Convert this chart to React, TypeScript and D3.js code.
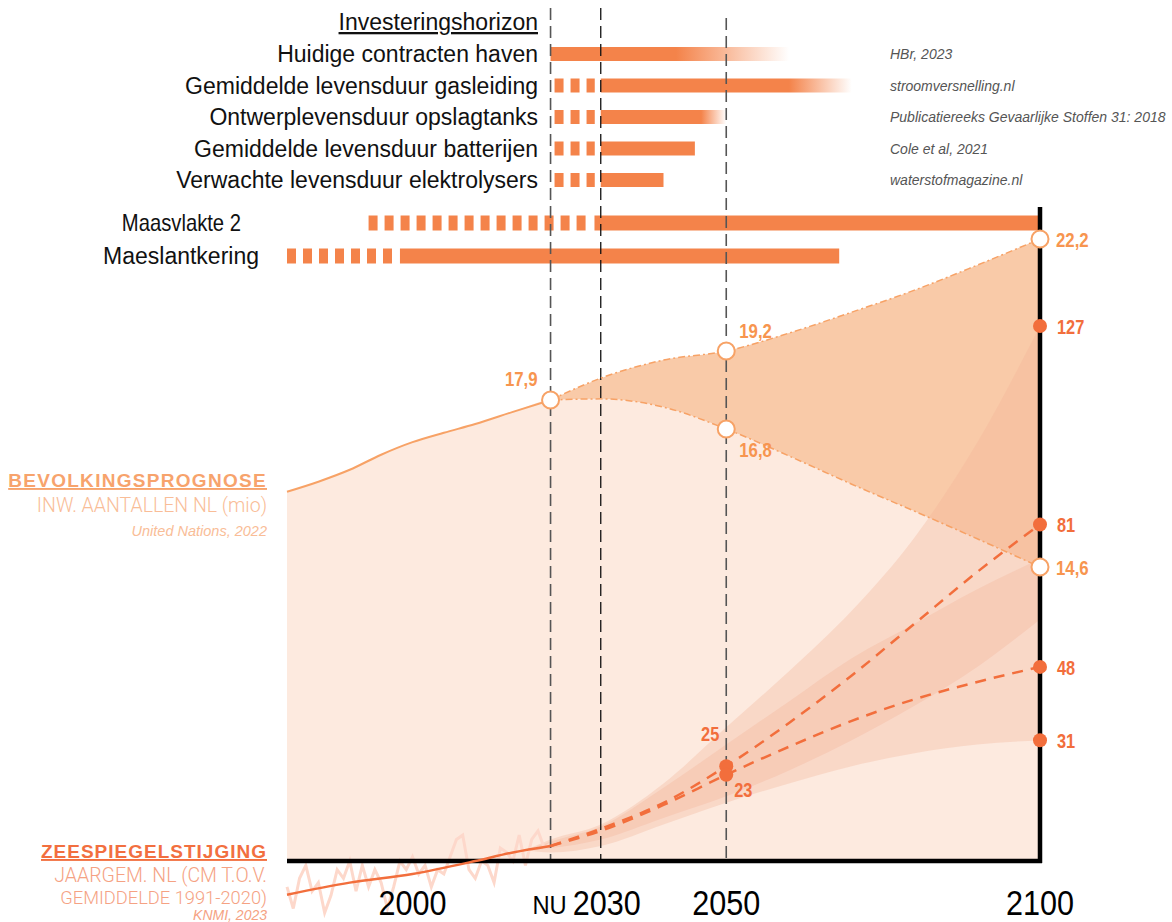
import * as d3 from "d3";

// --- investeringshorizon (top bars) ---
const horizonLabels = [
  "Huidige contracten haven",
  "Gemiddelde levensduur gasleiding",
  "Ontwerplevensduur opslagtanks",
  "Gemiddelde levensduur batterijen",
  "Verwachte levensduur elektrolysers",
];
const horizonSources = [
  "HBr, 2023",
  "stroomversnelling.nl",
  "Publicatiereeks Gevaarlijke Stoffen 31: 2018",
  "Cole et al, 2021",
  "waterstofmagazine.nl",
];
const horizonDashFrom = [null, 2022, 2022, 2022, 2022];
const horizonStart = [2022, 2030, 2030, 2030, 2030];
const horizonSolidEnd = [2042, 2060, 2046, 2045, 2040];
const horizonFadeEnd = [2060, 2070, 2050, 2045, 2040];

const infraLabels = ["Maasvlakte 2", "Maeslantkering"];
const infraDashFrom = [1993, 1980];
const infraStart = [2029, 1998];
const infraEnd = [2100, 2068];

// --- x axis ---
const guideYears = [2022, 2030, 2050];
const tickYears = [2000, 2030, 2050, 2100];

// --- bevolking (mio) ---
const popHistYears = [1980, 1985, 1990, 1995, 2000, 2005, 2010, 2016, 2022];
const popHist = [15.8, 15.96, 16.15, 16.39, 16.59, 16.74, 16.99, 17.45, 17.9];
const projYears = [2022, 2030, 2040, 2050, 2060, 2070, 2080, 2090, 2100];
const popHigh = [17.9, 18.48, 18.96, 19.2, 19.68, 20.24, 20.83, 21.5, 22.2];
const popLow = [17.9, 17.93, 17.63, 16.8, 16.37, 15.92, 15.49, 15.05, 14.6];
const popMarkYears = [2022, 2050, 2050, 2100, 2100];
const popMarks = [17.9, 19.2, 16.8, 22.2, 14.6];

// --- zeespiegel (cm t.o.v. 1991-2020) ---
const seaAnnualYears = d3.range(1980, 2023);
const seaAnnual = [
  -3, -8, -1, 2, -4, -2, -9, -5, 1, -1, 3, -4, 2, -3, 1, -2, -8, -3, 3, 1, 4,
  0, 2, -3, 1, 0, 4, 8, 9, 1, -1, 3, 2, -2, 6, 5, 3, 9, 2, 8, 10, 6, 7,
];
const seaTrendYears = [1980, 1990, 2000, 2010, 2016, 2022];
const seaTrend = [-4.8, -2, 0, 3, 5, 6.5];
const bandYears = [2018, 2022, 2030, 2040, 2050, 2060, 2070, 2080, 2090, 2100];
const highUpper = [5.5, 8, 11.5, 21, 34, 47, 61, 78, 100, 127];
const highLower = [5.5, 6, 8, 13, 18, 24, 31, 39, 48, 59];
const lowUpper = [5.5, 7.5, 11, 20, 30, 40, 50, 58, 66, 73];
const lowLower = [5.5, 5, 6.5, 11.5, 16.5, 21, 25, 28, 30, 31];
const seaHighMedian = [6.5, 10.5, 16.5, 25, 35, 46, 58, 70, 81];
const seaLowMedian = [6.5, 10, 16, 23, 29.5, 35.5, 40.5, 44.5, 48];
const seaMarkYears = [2050, 2050, 2100, 2100, 2100, 2100];
const seaMarks = [25, 23, 127, 81, 48, 31];

const BAR = "#f4834a";
const POP = "#f7a266";
const SEA = "#f26e3c";
const FONT = "'Liberation Sans', Arial, sans-serif";

const fmt = (v: number) => (Number.isInteger(v) ? String(v) : v.toFixed(1).replace(".", ","));

export default function App() {
  const W = 1172;
  const H = 922;
  const bottom = 861;
  const x = d3.scaleLinear().domain([1980, 2100]).range([287, 1040]);
  // the population axis in the original is drawn by hand, so it is piecewise
  const yPop = d3
    .scaleLinear()
    .domain([14.6, 16.8, 17.9, 19.2, 22.2])
    .range([567, 429, 400, 351, 239]);
  const ySea = d3.scaleLinear().domain([0, 127]).range([874, 326]);
  const rowY = d3.scalePoint<string>().domain(horizonLabels).range([54, 180]);
  const infraY = d3.scalePoint<string>().domain(infraLabels).range([223, 256]);

  const line = d3
    .line<[number, number]>()
    .x((d) => x(d[0]))
    .curve(d3.curveMonotoneX);

  const popLine = line.y((d) => yPop(d[1]));
  const histPts: [number, number][] = popHistYears.map((yr, i) => [yr, popHist[i]]);
  const highPts: [number, number][] = projYears.map((yr, i) => [yr, popHigh[i]]);
  const lowPts: [number, number][] = projYears.map((yr, i) => [yr, popLow[i]]);
  const histPath = popLine(histPts) as string;
  const highPath = popLine(highPts) as string;
  const lowPath = popLine(lowPts) as string;

  const paleArea = d3
    .area<[number, number]>()
    .x((d) => x(d[0]))
    .y0(bottom)
    .y1((d) => yPop(d[1]))
    .curve(d3.curveMonotoneX)([...histPts, ...lowPts.slice(1)]) as string;

  const bandArea = d3
    .area<number>()
    .x((yr) => x(yr))
    .curve(d3.curveMonotoneX);
  const popBand = bandArea
    .y0((_, i) => yPop(popLow[i]))
    .y1((_, i) => yPop(popHigh[i]))(projYears) as string;
  const highBand = bandArea
    .y0((_, i) => ySea(highLower[i]))
    .y1((_, i) => ySea(highUpper[i]))(bandYears) as string;
  const lowBand = bandArea
    .y0((_, i) => ySea(lowLower[i]))
    .y1((_, i) => ySea(lowUpper[i]))(bandYears) as string;

  const seaLine = d3
    .line<[number, number]>()
    .x((d) => x(d[0]))
    .y((d) => ySea(d[1]));
  const annualPath = seaLine(seaAnnualYears.map((yr, i) => [yr, seaAnnual[i]])) as string;
  const trendPath = seaLine.curve(d3.curveMonotoneX)(
    seaTrendYears.map((yr, i) => [yr, seaTrend[i]])
  ) as string;
  const highMedPath = seaLine(projYears.map((yr, i) => [yr, seaHighMedian[i]])) as string;
  const lowMedPath = seaLine(projYears.map((yr, i) => [yr, seaLowMedian[i]])) as string;

  const condensed = (
    tx: number,
    ty: number,
    s: number,
    props: Record<string, unknown>,
    txt: string,
    key?: string
  ) => (
    <text key={key} transform={`translate(${tx},${ty}) scale(${s},1)`} {...props}>
      {txt}
    </text>
  );

  // label placement around markers
  const popLabelPos = (i: number) => {
    const cx = x(popMarkYears[i]);
    const cy = yPop(popMarks[i]);
    if (popMarkYears[i] === 2100) return { tx: cx + 16, ty: cy + 8, anchor: "start" };
    if (popMarkYears[i] === 2022) return { tx: cx - 13, ty: cy - 14, anchor: "end" };
    if (popMarks[i] > 18) return { tx: cx + 13, ty: cy - 13, anchor: "start" };
    return { tx: cx + 13, ty: cy + 28, anchor: "start" };
  };
  const seaLabelPos = (i: number) => {
    const cx = x(seaMarkYears[i]);
    const cy = ySea(seaMarks[i]);
    if (seaMarkYears[i] === 2100) return { tx: cx + 17, ty: cy + 8, anchor: "start" };
    if (i === 0) return { tx: cx - 7, ty: cy - 25, anchor: "end" };
    return { tx: cx + 8, ty: cy + 22, anchor: "start" };
  };

  return (
    <svg
      width={W}
      height={H}
      style={{ position: "absolute", left: 0, top: 0, background: "#fff" }}
      fontFamily={FONT}
    >
      <defs>
        {horizonLabels.map((_, i) => (
          <linearGradient
            key={i}
            id={`fade-${i}`}
            gradientUnits="userSpaceOnUse"
            x1={x(horizonSolidEnd[i])}
            x2={x(horizonFadeEnd[i])}
            y1={0}
            y2={0}
          >
            <stop offset="0" stopColor={BAR} stopOpacity={1} />
            <stop offset="1" stopColor={BAR} stopOpacity={horizonFadeEnd[i] === horizonSolidEnd[i] ? 1 : 0} />
          </linearGradient>
        ))}
      </defs>

      {/* population areas */}
      <path d={paleArea} fill="#fdeadf" />
      <path d={popBand} fill="#f9caa8" />

      {/* sea level scenario bands */}
      <path d={highBand} fill="#f4b499" fillOpacity={0.33} />
      <path d={lowBand} fill="#f4b499" fillOpacity={0.33} />

      {/* yearly sea level */}
      <path d={annualPath} fill="none" stroke="#fdd8cb" strokeWidth={3} strokeLinejoin="miter" />

      {/* investment horizon bars */}
      {horizonLabels.map((lab, i) => {
        const cy = rowY(lab) as number;
        const h = 14;
        const df = horizonDashFrom[i];
        return (
          <g key={lab}>
            {df !== null && (
              <line
                x1={x(df) + 4}
                x2={x(horizonStart[i]) - 6}
                y1={cy}
                y2={cy}
                stroke={BAR}
                strokeWidth={h}
                strokeDasharray="9 7"
              />
            )}
            <rect
              x={x(horizonStart[i])}
              y={cy - h / 2}
              width={x(horizonFadeEnd[i]) - x(horizonStart[i])}
              height={h}
              fill={`url(#fade-${i})`}
            />
          </g>
        );
      })}
      {infraLabels.map((lab, i) => {
        const cy = infraY(lab) as number;
        const h = 15;
        return (
          <g key={lab}>
            <line
              x1={x(infraDashFrom[i])}
              x2={x(infraStart[i]) - 7}
              y1={cy}
              y2={cy}
              stroke={BAR}
              strokeWidth={h}
              strokeDasharray="9 7"
            />
            <rect
              x={x(infraStart[i])}
              y={cy - h / 2}
              width={x(infraEnd[i]) - x(infraStart[i])}
              height={h}
              fill={BAR}
            />
          </g>
        );
      })}

      {/* vertical guides */}
      {guideYears.map((yr) => (
        <line
          key={yr}
          x1={x(yr)}
          x2={x(yr)}
          y1={yr === 2050 ? 18 : 8}
          y2={bottom}
          stroke={yr === 2030 ? "#111" : "#555"}
          strokeWidth={yr === 2030 ? 1.3 : 1.6}
          strokeDasharray="12 6"
        />
      ))}

      {/* axes */}
      <line x1={287} x2={x(2100) + 2} y1={bottom} y2={bottom} stroke="#000" strokeWidth={4.5} />
      <line x1={x(2100)} x2={x(2100)} y1={207} y2={bottom + 2} stroke="#000" strokeWidth={4.5} />

      {/* population lines */}
      <path d={histPath} fill="none" stroke={POP} strokeWidth={2} />
      <path d={highPath} fill="none" stroke={POP} strokeWidth={1.5} strokeDasharray="7 3 2 3" />
      <path d={lowPath} fill="none" stroke={POP} strokeWidth={1.5} strokeDasharray="7 3 2 3" />

      {/* sea level lines */}
      <path d={trendPath} fill="none" stroke={SEA} strokeWidth={2.5} />
      <path d={highMedPath} fill="none" stroke={SEA} strokeWidth={2.5} strokeDasharray="11 8" />
      <path d={lowMedPath} fill="none" stroke={SEA} strokeWidth={2.5} strokeDasharray="11 8" />

      {/* markers */}
      {popMarks.map((v, i) => (
        <circle key={i} cx={x(popMarkYears[i])} cy={yPop(v)} r={8.5} fill="#fff" stroke={POP} strokeWidth={2} />
      ))}
      {seaMarks.map((v, i) => (
        <circle key={i} cx={x(seaMarkYears[i])} cy={ySea(v)} r={7} fill={SEA} />
      ))}

      {/* marker labels */}
      {popMarks.map((v, i) => {
        const p = popLabelPos(i);
        return condensed(p.tx, p.ty, 0.84, { fontSize: 20, fontWeight: 700, fill: "#f7954f", textAnchor: p.anchor }, fmt(v), `p${i}`);
      })}
      {seaMarks.map((v, i) => {
        const p = seaLabelPos(i);
        return condensed(p.tx, p.ty, 0.82, { fontSize: 20, fontWeight: 700, fill: SEA, textAnchor: p.anchor }, fmt(v), `s${i}`);
      })}

      {/* top labels */}
      <text x={538} y={30} textAnchor="end" fontSize={23} fill="#111" style={{ textDecoration: "underline" }}>
        Investeringshorizon
      </text>
      {horizonLabels.map((lab, i) => (
        <g key={lab}>
          <text x={538} y={(rowY(lab) as number) + 8} textAnchor="end" fontSize={23} fill="#111">
            {lab}
          </text>
          <text x={890} y={(rowY(lab) as number) + 5} fontSize={14} fontStyle="italic" fill="#555">
            {horizonSources[i]}
          </text>
        </g>
      ))}
      {infraLabels.map((lab, i) =>
        condensed(i === 0 ? 241 : 259, (infraY(lab) as number) + 8, i === 0 ? 0.88 : 1, { fontSize: 23, fill: "#111", textAnchor: "end" }, lab, lab)
      )}

      {/* left legends */}
      <text x={267} y={487} textAnchor="end" fontSize={19} fontWeight={700} letterSpacing={1.3} fill="#f7a36c" style={{ textDecoration: "underline" }}>
        BEVOLKINGSPROGNOSE
      </text>
      <text x={267} y={512} textAnchor="end" fontSize={19.5} fontFamily="Roboto" fontWeight={300} fill="#f9bd97">
        INW. AANTALLEN NL (mio)
      </text>
      <text x={267} y={536} textAnchor="end" fontSize={14.5} fontStyle="italic" fill="#f9bd97">
        United Nations, 2022
      </text>
      <text x={267} y={858} textAnchor="end" fontSize={19} fontWeight={700} letterSpacing={1} fill="#f26f3f" style={{ textDecoration: "underline" }}>
        ZEESPIEGELSTIJGING
      </text>
      <text x={267} y={882} textAnchor="end" fontSize={19.5} fontFamily="Roboto" fontWeight={300} fill="#f5a283">
        JAARGEM. NL (CM T.O.V.
      </text>
      <text x={267} y={904} textAnchor="end" fontSize={18.3} fontFamily="Roboto" fontWeight={300} fill="#f5a283">
        GEMIDDELDE 1991-2020)
      </text>
      <text x={267} y={920} textAnchor="end" fontSize={14} fontStyle="italic" fill="#f5a283">
        KNMI, 2023
      </text>

      {/* x tick labels */}
      {tickYears.map((yr) =>
        condensed(x(yr) + (yr === 2030 ? 6 : 0), 915, 0.85, { fontSize: 36, fill: "#000", textAnchor: "middle" }, String(yr), `t${yr}`)
      )}
      {condensed(x(2022) - 1, 914, 0.95, { fontSize: 25, fill: "#000", textAnchor: "middle" }, "NU", "nu")}
    </svg>
  );
}
